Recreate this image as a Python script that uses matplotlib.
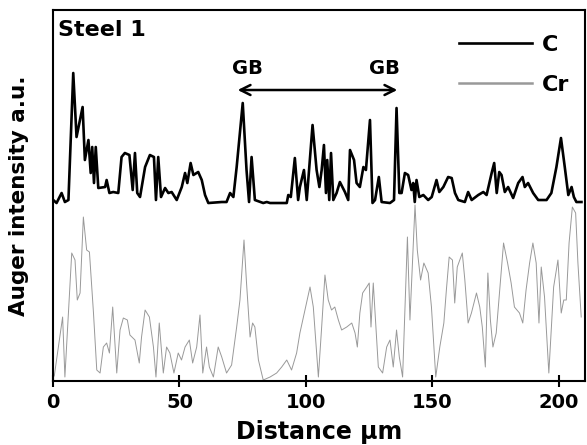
import matplotlib.pyplot as plt

# distance (um) and intensity (arbitrary units)
c_dist = [0.1, 1.4, 3.4, 4.7, 6.1, 8.0, 9.3, 11.7, 12.6, 14.0, 14.9, 15.5, 16.2, 16.9,
          17.9, 20.6, 21.2, 22.3, 23.8, 25.8, 27.1, 28.4, 30.2, 31.5, 32.4, 33.3, 34.4,
          36.4, 38.3, 39.9, 40.7, 41.6, 42.7, 44.3, 45.6, 46.9, 48.9, 50.9, 52.2, 53.1,
          54.4, 55.5, 57.4, 58.8, 60.1, 61.4, 66.7, 68.6, 70.0, 71.3, 72.6, 75.0, 76.5,
          77.5, 78.5, 79.8, 83.1, 84.5, 85.8, 92.4, 93.0, 94.0, 95.6, 96.9,
          97.6, 99.2, 100.3, 102.6, 104.2, 105.3, 106.2, 107.1, 107.9, 108.4, 109.2,
          109.9, 110.8, 112.1, 113.4, 115.4, 116.7, 117.4, 119.0, 120.0, 121.3, 122.7,
          123.7, 125.3, 126.3, 127.3, 128.8, 129.9, 133.2, 134.8, 135.8, 136.9, 137.8,
          139.1, 140.4, 141.7, 142.4, 143.0, 143.7, 144.8, 146.4, 148.3, 149.7, 151.6,
          152.7, 154.3, 156.2, 157.6, 158.9, 160.2, 162.8, 164.1, 165.5, 168.1, 170.1,
          171.4, 173.4, 174.4, 175.4, 176.4, 177.3, 178.6, 179.9, 181.9, 183.9, 185.6,
          186.5, 187.8, 189.8, 191.8, 195.1, 197.0, 199.0, 200.8, 202.3, 203.7, 205.0,
          205.9, 206.9, 208.9]
c_val = [181, 178, 188, 179, 181, 308, 244, 274, 221, 241, 208, 234, 198, 234,
         193, 194, 201, 188, 189, 188, 224, 228, 226, 191, 228, 188, 184,
         214, 226, 224, 181, 224, 184, 193, 188, 189, 181, 194, 208, 198,
         218, 206, 209, 201, 186, 178, 179, 179, 188, 184, 214, 278, 211,
         179, 224, 181, 178, 179, 178, 178, 186, 184, 223, 181,
         194, 211, 181, 256, 211, 194, 211, 236, 188, 221, 181,
         228, 181, 188, 199, 189, 181, 231, 221, 198, 194, 214,
         211, 261, 178, 181, 204, 179, 178, 181, 273, 188, 188,
         208, 206, 191, 198, 179, 201, 184, 186, 181, 184, 201,
         189, 194, 204, 203, 188, 181, 179, 189, 181, 186, 189,
         186, 208, 218, 188, 209, 206, 189, 194, 183, 198, 204,
         194, 198, 188, 181, 181, 188, 214, 243, 214, 186, 194,
         184, 179, 179]

cr_dist = [0.5, 3.8, 4.7, 7.4, 8.7, 9.6, 10.7, 12.0, 13.3, 14.4, 16.0, 17.3, 18.6, 19.9,
           21.2, 22.3, 23.6, 25.2, 26.5, 27.8, 29.4, 30.4, 32.4, 34.1, 35.0, 36.4, 38.1,
           39.7, 40.7, 42.0, 43.6, 44.9, 46.2, 47.8, 49.5, 50.8, 52.2, 53.9, 55.2, 56.8,
           58.1, 59.2, 60.7, 61.8, 63.4, 65.3, 66.7, 68.6, 70.6, 72.6, 73.9, 75.5, 76.5,
           77.9, 78.9, 79.8, 81.2, 83.1, 85.8, 88.4, 90.4, 92.4, 94.3, 96.3,
           97.6, 101.6, 102.9, 104.9, 106.2, 107.5, 108.8, 110.1, 111.4, 112.8, 114.1,
           116.1, 118.1, 119.4, 120.3, 121.3, 122.4, 124.0, 125.0, 125.7, 126.6, 128.6,
           130.3, 131.9, 133.2, 134.5, 135.8, 136.9, 138.2, 140.1, 141.1, 142.2, 143.1,
           144.0, 145.3, 146.6, 148.3, 149.6, 151.3, 152.9, 154.5, 155.5, 156.6, 157.9,
           158.8, 159.8, 160.8, 161.8, 162.8, 164.1, 165.4, 167.4, 168.7, 169.7, 170.9,
           171.9, 172.9, 173.9, 175.2, 176.5, 178.1, 179.7, 181.1, 182.4, 184.4, 185.7,
           187.0, 188.4, 189.7, 191.0, 192.1, 193.0, 194.3, 196.0, 197.9, 199.6, 200.9,
           201.9, 202.9, 204.0, 205.3, 206.6, 207.5, 208.8]
cr_val = [5, 64, 4, 128, 121, 81, 88, 164, 131, 129, 68, 11, 8, 34,
          38, 28, 74, 8, 51, 63, 61, 46, 41, 18, 44, 71, 64,
          34, 4, 58, 8, 34, 28, 8, 28, 21, 34, 41, 18, 34,
          66, 8, 34, 14, 4, 34, 24, 8, 16, 54, 81, 141, 98,
          44, 58, 54, 21, 1, 4, 8, 14, 21, 11, 28,
          48, 94, 74, 4, 54, 106, 81, 71, 74, 61, 51,
          54, 58, 48, 34, 68, 88, 94, 98, 54, 98, 14,
          8, 34, 41, 14, 51, 24, 4, 144, 61, 124, 176,
          131, 101, 118, 108, 74, 4, 34, 58, 91, 124, 121,
          78, 114, 121, 128, 101, 58, 68, 88, 74, 54, 14,
          108, 61, 34, 48, 88, 138, 118, 98, 74, 68, 58,
          91, 118, 138, 118, 58, 114, 84, 8, 94, 121, 68,
          81, 81, 138, 174, 168, 118, 64]

x_ticks = [0, 50, 100, 150, 200]

fig = plt.figure(figsize=(5.87, 4.45), dpi=100)
ax = fig.add_axes([0.0903, 0.1438, 0.9063, 0.8337])

ax.plot(c_dist, c_val, color='black', linewidth=1.9, label='C')
ax.plot(cr_dist, cr_val, color='0.6', linewidth=0.7, label='Cr')

ax.set_xlim(0, 210.3)
ax.set_ylim(0, 371)
ax.set_xticks(x_ticks)
ax.set_yticks([])
ax.tick_params(axis='x', direction='inout', length=9, width=1.5, pad=4, labelsize=14)
for lbl in ax.get_xticklabels():
    lbl.set_fontweight('bold')
for sp in ax.spines.values():
    sp.set_linewidth(1.5)

ax.set_xlabel('Distance \u03bcm', fontsize=17, fontweight='bold', labelpad=6)
ax.set_ylabel('Auger intensity a.u.', fontsize=15.5, fontweight='bold', labelpad=17)

ax.text(2, 351, 'Steel 1', fontsize=16, fontweight='bold', va='center', ha='left')

# grain boundary markers
ax.annotate('', xy=(71.9, 291), xytext=(137.2, 291),
            arrowprops=dict(arrowstyle='<->', color='black', lw=1.8, mutation_scale=18))
ax.text(76.7, 313, 'GB', fontsize=14, fontweight='bold', ha='center', va='center')
ax.text(131.2, 313, 'GB', fontsize=14, fontweight='bold', ha='center', va='center')

leg = ax.legend(loc='upper right', bbox_to_anchor=(1.0, 0.975), frameon=False,
                prop={'weight': 'bold', 'size': 16}, handlelength=3.3,
                handletextpad=0.45, labelspacing=0.9, borderaxespad=0.3)
leg.get_lines()[1].set_linewidth(1.8)

plt.savefig('out.png', dpi=100)
